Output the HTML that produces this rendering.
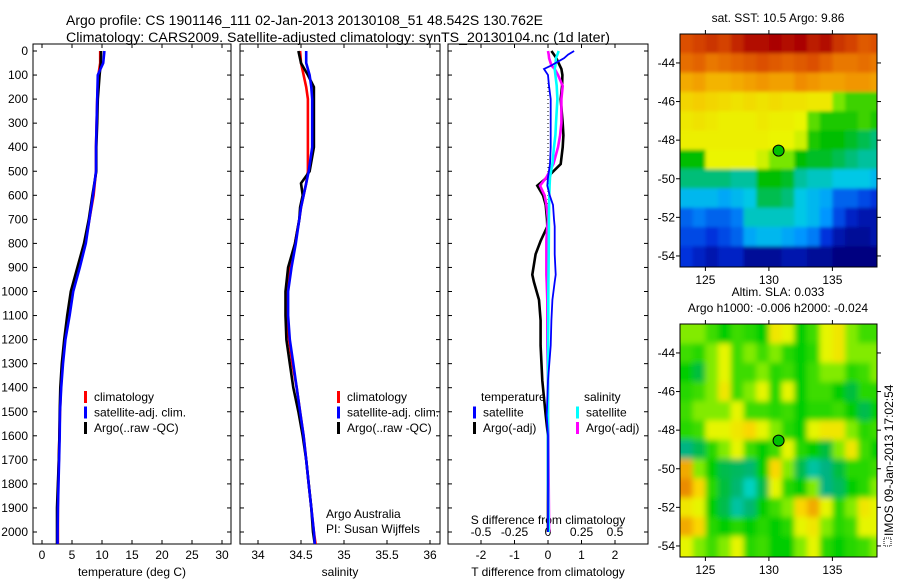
<!DOCTYPE html>
<html><head><meta charset="utf-8"><style>
body{margin:0;background:#fff}
svg{display:block;font-family:"Liberation Sans",sans-serif}
text{font-size:12px;fill:#000}
</style></head><body>
<svg id="s" width="900" height="580" viewBox="0 0 900 580" xmlns="http://www.w3.org/2000/svg">
<defs>
<filter id="blurS" x="0" y="0" width="1" height="1"><feGaussianBlur stdDeviation="1.8" edgeMode="duplicate"/></filter>
<filter id="blurL" x="0" y="0" width="1" height="1"><feGaussianBlur stdDeviation="2.8" edgeMode="duplicate"/></filter>
</defs>
<text x="66" y="25" style="font-size:13.5px" textLength="477" lengthAdjust="spacingAndGlyphs">Argo profile: CS 1901146_111 02-Jan-2013 20130108_51 48.542S 130.762E</text>
<text x="66" y="42" style="font-size:13.5px" textLength="544" lengthAdjust="spacingAndGlyphs">Climatology: CARS2009. Satellite-adjusted climatology: synTS_20130104.nc (1d later)</text>
<g id="g"></g>
</svg>
<script>
// ---------- data ----------
const depthT = [0,50,100,200,300,400,500,600,700,800,900,1000,1100,1200,1300,1400,1500,1600,1700,1800,1900,2000,2050];
const tempArgo = [9.85,9.8,9.6,9.3,9.2,9.05,9.05,8.4,7.8,7.0,5.9,4.8,4.2,3.7,3.3,3.05,2.95,2.9,2.8,2.65,2.5,2.5,2.5];
const tempSat = [10.4,10.2,9.3,9.2,9.1,9.0,9.0,8.5,7.9,7.3,6.3,5.2,4.6,3.9,3.5,3.2,3.0,2.95,2.85,2.75,2.65,2.6,2.6];
const tempClim = [9.7,9.7,9.4,9.2,9.1,9.0,9.0,8.6,7.9,7.2,6.1,5.0,4.4,3.8,3.4,3.15,3.0,2.9,2.8,2.7,2.65,2.65,2.65];
const depthS = [0,50,100,150,200,300,400,500,550,600,650,700,800,900,1000,1100,1200,1300,1400,1500,1600,1700,1800,1900,2000,2050];
const salArgo = [34.47,34.5,34.58,34.65,34.65,34.65,34.65,34.6,34.5,34.52,34.49,34.48,34.43,34.35,34.32,34.32,34.33,34.37,34.41,34.47,34.52,34.56,34.59,34.62,34.64,34.66];
const salSat = [34.56,34.56,34.6,34.62,34.63,34.63,34.63,34.59,34.56,34.53,34.5,34.48,34.44,34.39,34.35,34.35,34.37,34.41,34.45,34.49,34.53,34.56,34.59,34.62,34.65,34.66];
const salClim = [34.49,34.5,34.53,34.56,34.58,34.58,34.58,34.58,34.56,34.53,34.5,34.48,34.43,34.37,34.33,34.34,34.36,34.4,34.45,34.49,34.53,34.56,34.59,34.62,34.65,34.67];
const depthD = [0,15,30,60,75,100,145,200,300,350,400,470,525,560,600,640,700,730,790,845,930,960,1035,1120,1225,1370,1515,1600,1800,2000];
const dTArgo = [0.1,0.18,0.25,0.35,0.4,0.43,0.42,0.38,0.44,0.46,0.44,0.38,-0.02,-0.32,-0.15,-0.07,-0.03,-0.02,-0.22,-0.37,-0.47,-0.42,-0.27,-0.22,-0.22,-0.17,-0.07,0,0,0];
const dTSat = [0.78,0.6,0.48,0.1,-0.12,0.0,0.03,0.08,0.08,0.08,0.08,0.06,0.0,-0.02,0.05,0.15,0.18,0.2,0.2,0.2,0.23,0.2,0.13,0.1,0.08,0.0,-0.04,0.0,0.0,0.0];
const dSSat = [0.08,0.07,0.06,0.055,0.05,0.055,0.065,0.07,0.06,0.055,0.045,0.033,0.015,0.012,0.01,0.008,0.007,0.007,0.006,0.005,0.004,0.003,0.002,0.002,0.001,0.0,0.0,0.0,0.0,0.005];
const dSArgo = [0.0,0.005,0.008,0.025,0.05,0.075,0.11,0.1,0.1,0.09,0.075,0.04,-0.012,-0.06,-0.025,-0.012,0.0,-0.005,-0.012,-0.012,-0.012,-0.01,-0.005,-0.005,-0.005,0.0,0.0,0.003,0.005,0.008];
const depthTicks = [0,100,200,300,400,500,600,700,800,900,1000,1100,1200,1300,1400,1500,1600,1700,1800,1900,2000];
const tTicks = [0,5,10,15,20,25,30];
const sTicks = [34,34.5,35,35.5,36];
const dTTicks = [-2,-1,0,1,2];
const dSTickLabels = ["-0.5","-0.25","0","0.25","0.5"];
const dSTicks = [-0.5,-0.25,0,0.25,0.5];
const mapLons = [123.5,124.5,125.5,126.5,127.5,128.5,129.5,130.5,131.5,132.5,133.5,134.5,135.5,136.5,137.5,138.5];
const mapLats = [-43,-44,-45,-46,-47,-48,-49,-50,-51,-52,-53,-54];
const sstGrid = [
[12.4,12.5,12.6,12.5,12.7,12.9,12.9,13.0,12.9,13.0,12.8,12.9,12.6,12.5,12.3,12.4],
[12.1,12.2,12.0,12.1,12.2,12.3,12.4,12.3,12.2,12.3,12.4,12.2,12.0,12.0,12.1,12.0],
[11.5,11.6,11.4,11.4,11.5,11.6,11.7,11.6,11.6,11.8,11.7,11.6,11.6,11.7,11.7,11.6],
[11.0,11.1,11.0,10.9,10.8,10.9,10.8,10.9,10.8,10.8,10.7,10.7,10.1,9.9,9.9,9.9],
[10.7,10.8,10.7,10.6,10.6,10.6,10.7,10.6,10.6,10.5,10.0,9.8,9.8,9.8,9.9,9.8],
[10.6,10.6,10.6,10.6,10.6,10.6,10.6,10.5,10.5,10.4,9.8,9.7,9.7,9.6,9.5,9.4],
[9.7,9.7,10.5,10.5,10.5,10.5,10.4,10.1,10.1,9.7,9.6,9.6,9.5,9.4,9.3,9.3],
[9.4,9.4,9.4,9.4,9.3,9.3,9.7,9.7,9.6,9.3,9.2,9.2,9.1,9.1,9.1,9.0],
[9.0,9.0,9.0,8.9,9.0,9.1,9.5,9.5,9.4,9.1,9.0,8.9,8.6,8.6,8.5,8.4],
[8.6,8.7,8.6,8.6,8.7,9.2,9.2,9.2,9.2,9.1,9.0,8.8,8.5,8.3,8.2,8.2],
[8.5,8.5,8.4,8.5,8.6,8.9,9.0,9.0,8.9,8.8,8.7,8.4,8.2,8.1,8.1,8.2],
[8.4,8.3,8.2,8.3,8.3,8.1,8.1,8.1,8.2,8.2,8.1,8.1,8.0,8.0,8.0,8.0]];
const slaGrid = [
[0.05,0.05,0.03,0,0.03,0.02,0,0.1,0.08,0,0.03,0.08,0.1,0.05,0.03,0.03],
[0.03,0.02,0.05,0.08,0.03,0.05,0.03,0.05,0.02,0,0.02,0.08,0.1,0.05,0.05,0.05],
[0,-0.02,0.05,0.08,0.03,0.03,0.05,0.02,0.03,0,0.03,0.05,0.05,0.02,0.03,0.05],
[0.02,0.03,0.05,0.1,0.03,0.05,0.08,0.02,0.08,0,0.03,0.03,0,-0.02,0.02,0.02],
[0.03,0.05,0.05,0.05,0.08,0.03,0.03,0.02,0.03,0,0.02,0.02,0.03,0,-0.03,0],
[0.02,0.03,0.08,0.08,0.1,0.12,0.08,0.05,0.02,0,0.08,0.1,0.1,0.05,0.02,0.03],
[-0.06,-0.03,0.02,0.05,0.08,0.03,0,0.03,0.08,0.02,0,-0.02,0.05,0.1,0.03,0],
[0.15,0.05,0,-0.03,-0.04,-0.05,0,0.12,0.05,-0.03,-0.08,-0.06,-0.02,0.02,0.02,0.03],
[0.18,0.12,0.02,-0.02,-0.05,-0.1,-0.03,0.08,0.02,0,0.05,-0.06,-0.04,0,0.02,0.05],
[0.1,0.08,0,-0.03,-0.08,-0.05,0,0.03,0.05,0.12,0.15,0.08,0.02,0.05,0.1,0.08],
[0.15,0.12,0.02,0,0.02,0,0.02,0,0.02,0.08,0.1,0.05,0.02,0.03,0.08,0.08],
[0.08,0.05,0.03,0.05,0.08,0.02,0.03,0,0,0.05,0.08,0.02,0,0.02,0.03,0.05]];
const argoLon = 130.762, argoLat = -48.542;
const lonTicks = [125,130,135];
const latTicks = [-44,-46,-48,-50,-52,-54];

// ---------- helpers ----------
const NS = "http://www.w3.org/2000/svg";
const G = document.getElementById('g');
function mk(tag, attrs, parent){const e=document.createElementNS(NS,tag);for(const k in attrs)e.setAttribute(k,attrs[k]);(parent||G).appendChild(e);return e;}
function txt(x,y,s,anchor,parent){const t=mk('text',{x:x,y:y,'text-anchor':anchor||'middle'},parent);t.textContent=s;return t;}
const yD = d => 51 + d*0.2405;
const TOP=44, BOT=544;

function panel(name, x0, x1, xs, ticks, labels, title){
  const g = mk('g',{});
  
  
  const f = mk('rect',{x:x0,y:TOP,width:x1-x0,height:BOT-TOP,fill:'none',stroke:'#000','stroke-width':1},g);
  
  
  depthTicks.forEach(d=>{
    mk('line',{x1:x0,x2:x0+4,y1:yD(d),y2:yD(d),stroke:'#000'},g);
    mk('line',{x1:x1-4,x2:x1,y1:yD(d),y2:yD(d),stroke:'#000'},g);
  });
  ticks.forEach((v,i)=>{
    const x=xs(v);
    mk('line',{x1:x,x2:x,y1:BOT,y2:BOT-4,stroke:'#000'},g);
    mk('line',{x1:x,x2:x,y1:TOP,y2:TOP+4,stroke:'#000'},g);
    const t=txt(x,559,labels[i],'middle',g);
    
    
  });
  const at=txt((x0+x1)/2,576,title,'middle',g);
  
  
  return g;
}
function line(parent, xs, depths, vals, color, name, w){
  const pts = depths.map((d,i)=>xs(vals[i]).toFixed(1)+','+yD(d).toFixed(1)).join(' ');
  const p = mk('polyline',{points:pts,fill:'none',stroke:color,'stroke-width':w||2.6,'stroke-linejoin':'miter'},parent);
  
  
}
function legend(parent, x, y, items, name){
  items.forEach((it,i)=>{
    const yy=y+i*15.5;
    if(it[0]){mk('rect',{x:x,y:yy-6,width:3,height:12,fill:it[0]},parent);}
    const t=txt(x+(it[0]?10:8),yy+4,it[1],'start',parent);
    
    
  });
}

depthTicks.forEach(d=>{
  const t=txt(28,yD(d)+4,String(d),'end');
  
  
});

const xT = v => 42 + 6*v;
const p1 = panel('temperature-panel',33,231,xT,tTicks,tTicks.map(String),'temperature (deg C)');
line(p1,xT,depthT,tempClim,'#f00','temperature-climatology-line');
line(p1,xT,depthT,tempArgo,'#000','temperature-argo-line');
line(p1,xT,depthT,tempSat,'#00f','temperature-satellite-line');
legend(p1,84,397,[['#f00','climatology'],['#00f','satellite-adj. clim.'],['#000','Argo(..raw -QC)']],'temperature-legend-entry');

const xS = v => 258 + (v-34)*86;
const p2 = panel('salinity-panel',240,440,xS,sTicks,sTicks.map(String),'salinity');
line(p2,xS,depthS,salClim,'#f00','salinity-climatology-line');
line(p2,xS,depthS,salArgo,'#000','salinity-argo-line');
line(p2,xS,depthS,salSat,'#00f','salinity-satellite-line');
legend(p2,337,397,[['#f00','climatology'],['#00f','satellite-adj. clim.'],['#000','Argo(..raw -QC)']],'salinity-legend-entry');
const a1=txt(326,518,'Argo Australia','start',p2);


const a2=txt(326,533,'PI: Susan Wijffels','start',p2);



const xDT = v => 548 + 33.5*v;
const xDS = v => 548 + 134*v;
const p3 = panel('difference-panel',448,648,xDT,dTTicks,dTTicks.map(String),'T difference from climatology');
mk('line',{x1:548,x2:548,y1:yD(100),y2:yD(1000),stroke:'#000','stroke-dasharray':'1,3'},p3);
dSTicks.forEach((v,i)=>{
  const t=txt(xDS(v),536,dSTickLabels[i],'middle',p3);
  
  
});
const sdt=txt(548,524,'S difference from climatology','middle',p3);


line(p3,xDT,depthD,dTArgo,'#000','t-diff-argo-line',2.6);
line(p3,xDS,depthD,dSArgo,'#f0f','s-diff-argo-line',2.6);
line(p3,xDS,depthD,dSSat,'#0ff','s-diff-satellite-line',2.6);
line(p3,xDT,depthD,dTSat,'#00f','t-diff-satellite-line',1.8);
legend(p3,473,397,[[null,'temperature'],['#00f','satellite'],['#000','Argo(-adj)']],'t-diff-legend-entry');
legend(p3,576,397,[[null,'salinity'],['#0ff','satellite'],['#f0f','Argo(-adj)']],'s-diff-legend-entry');

function rgb(c){return 'rgb('+c.join(',')+')';}
function cmap(stops, v){
  if(v<=stops[0][0]) return rgb(stops[0][1]);
  for(let i=1;i<stops.length;i++){
    if(v<=stops[i][0]){
      const a=stops[i-1],b=stops[i],t=(v-a[0])/(b[0]-a[0]);
      return rgb(a[1].map((q,k)=>Math.round(q+(b[1][k]-q)*t)));
    }
  }
  return rgb(stops[stops.length-1][1]);
}
const sstStops = [[8.0,[0,0,128]],[8.4,[0,48,220]],[8.8,[0,150,255]],[9.1,[0,200,230]],[9.4,[0,190,120]],[9.7,[0,190,0]],[10.1,[120,230,0]],[10.5,[235,245,0]],[11.2,[245,200,0]],[11.8,[240,140,0]],[12.4,[220,80,0]],[13.0,[170,0,0]]];
const slaStops = [[-0.12,[0,225,225]],[-0.06,[0,180,130]],[-0.02,[0,190,60]],[0.0,[0,205,0]],[0.03,[60,220,0]],[0.05,[130,235,0]],[0.08,[230,245,0]],[0.12,[250,215,0]],[0.17,[235,140,0]]];
const MX0=680, MX1=877, PXLON=12.7, PXLAT=19.3;
function drawMap(name, top, grid, stops, bg, titles, filt){
  const g=mk('g',{});
  
  
  const bot=top+233;
  const xL = lon => MX0 + (lon-123)*PXLON;
  const yL = lat => top + (-42.5-lat)*PXLAT;
  const cid='clip'+name;
  const cp=mk('clipPath',{id:cid},g);
  mk('rect',{x:MX0,y:top,width:MX1-MX0,height:bot-top},cp);
  const outer=mk('g',{'clip-path':'url(#'+cid+')'},g);
  const cells=mk('g',{filter:'url(#'+filt+')'},outer);
  mk('rect',{x:MX0-20,y:top-20,width:MX1-MX0+40,height:bot-top+40,fill:bg},cells);
  mapLats.forEach((lat,r)=>{
    mapLons.forEach((lon,c)=>{
      const y0=(r===0)?top-20:yL(lat+0.5), y1=(r===mapLats.length-1)?bot+20:yL(lat-0.5);
      const x0=(c===0)?MX0-20:xL(lon-0.5), x1=(c===mapLons.length-1)?MX1+20:xL(lon+0.5);
      const cell=mk('rect',{x:x0,y:y0,width:x1-x0+0.5,height:y1-y0+0.5,fill:cmap(stops,grid[r][c])},cells);
      
      
    });
  });
  const fr=mk('rect',{x:MX0,y:top,width:MX1-MX0,height:bot-top,fill:'none',stroke:'#000'},g);
  
  
  lonTicks.forEach(l=>{
    const x=xL(l);
    mk('line',{x1:x,x2:x,y1:bot,y2:bot+4,stroke:'#000'},g);
    mk('line',{x1:x,x2:x,y1:top,y2:top-4,stroke:'#000'},g);
    const t=txt(x,bot+17,String(l),'middle',g);
    
    
  });
  latTicks.forEach(l=>{
    const y=yL(l);
    mk('line',{x1:MX0-4,x2:MX0,y1:y,y2:y,stroke:'#000'},g);
    mk('line',{x1:MX1,x2:MX1+4,y1:y,y2:y,stroke:'#000'},g);
    const t=txt(MX0-5,y+4,String(l),'end',g);
    
    
  });
  const m=mk('circle',{cx:xL(argoLon),cy:yL(argoLat),r:5.5,fill:'#00c000',stroke:'#000','stroke-width':1},g);
  
  
  titles.forEach((s,i)=>{
    const t=txt(778,top-12-(titles.length-1-i)*16,s,'middle',g);
    
    
  });
}
drawMap('sst-map',34,sstGrid,sstStops,'#000080',['sat. SST: 10.5 Argo: 9.86'],'blurS');
drawMap('sla-map',324,slaGrid,slaStops,'#00d000',['Altim. SLA: 0.033','Argo h1000: -0.006 h2000: -0.024'],'blurL');

const side=txt(0,0,'IMOS 09-Jan-2013 17:02:54','start');
side.setAttribute('transform','translate(893,546) rotate(-90)');
side.setAttribute('x','10');


const ic=mk('rect',{x:884,y:538,width:7,height:8,fill:'none',stroke:'#000','stroke-dasharray':'1,1'});


</script>
</body></html>
